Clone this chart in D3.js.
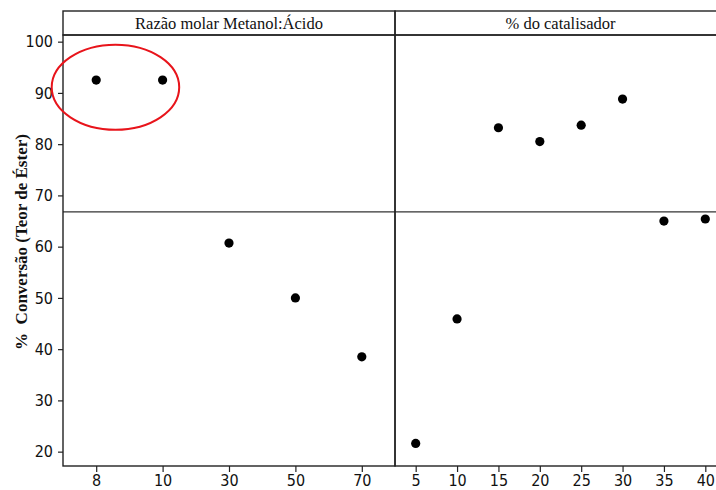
<!DOCTYPE html>
<html>
<head>
<meta charset="utf-8">
<script src="https://cdn.jsdelivr.net/npm/d3@7"></script>
<style>
  html, body { margin: 0; padding: 0; background: #fff; }
  svg { display: block; }
</style>
</head>
<body>
<svg id="chart" width="716" height="490"></svg>
<script>
// Main-effects data: mean conversion (%) for each level of the two factors
const ratioLevels = ["8", "10", "30", "50", "70"];
const ratioValues = [92.5, 92.5, 60.7, 50.0, 38.5];

const catalystLevels = ["5", "10", "15", "20", "25", "30", "35", "40"];
const catalystValues = [21.6, 45.9, 83.2, 80.5, 83.7, 88.8, 65.0, 65.4];

const panelTitles = ["Razão molar Metanol:Ácido", "% do catalisador"];
const yTicks = [20, 30, 40, 50, 60, 70, 80, 90, 100];
const yTitle = "%  Conversão (Teor de Éster)";

// Highlight ellipse around the two best ratio levels (data units)
const highlight = { level: "8", shift: 0.29, value: 91.1, halfWidth: 0.96, halfHeight: 8.3 };

const svg = d3.select("#chart");

const plotTop = 35, plotBottom = 466, stripTop = 11;
const panelX = [[63, 395], [395, 726]];

const y = d3.scaleLinear().domain([17.2, 101.3]).range([plotBottom, plotTop]);

const panels = [
  { title: panelTitles[0], levels: ratioLevels, values: ratioValues, range: panelX[0] },
  { title: panelTitles[1], levels: catalystLevels, values: catalystValues, range: panelX[1] }
];

const allValues = ratioValues.concat(catalystValues);
const grandMean = d3.mean(allValues);

const axisColor = "#222";
const tickFont = "'DejaVu Sans Condensed', 'DejaVu Sans', sans-serif";
const serifFont = "'Liberation Serif', 'Times New Roman', serif";

function styleTickText(sel) {
  sel.attr("font-family", tickFont)
    .attr("font-size", 16)
    .style("font-stretch", "condensed")
    .attr("fill", "#111");
}

panels.forEach((p) => {
  p.x = d3.scalePoint().domain(p.levels).range(p.range).padding(0.5);
});

// Grand-mean reference line across both panels
svg.append("line")
  .attr("x1", panelX[0][0]).attr("x2", panelX[1][1])
  .attr("y1", y(grandMean)).attr("y2", y(grandMean))
  .attr("stroke", "#333").attr("stroke-width", 1.2);

panels.forEach((p) => {
  const [x0, x1] = p.range;
  const g = svg.append("g");

  // strip header
  g.append("rect")
    .attr("x", x0).attr("y", stripTop)
    .attr("width", x1 - x0).attr("height", plotTop - stripTop)
    .attr("fill", "none").attr("stroke", axisColor).attr("stroke-width", 1.4);
  g.append("text")
    .attr("x", (x0 + x1) / 2).attr("y", 29.3)
    .attr("text-anchor", "middle")
    .attr("font-family", serifFont).attr("font-size", 16.5)
    .attr("fill", "#111")
    .text(p.title);

  // panel frame
  g.append("rect")
    .attr("x", x0).attr("y", plotTop)
    .attr("width", x1 - x0).attr("height", plotBottom - plotTop)
    .attr("fill", "none").attr("stroke", axisColor).attr("stroke-width", 1.4);

  // x axis
  const xa = g.append("g")
    .attr("transform", `translate(0,${plotBottom})`)
    .call(d3.axisBottom(p.x).tickSize(6).tickPadding(3));
  xa.select(".domain").remove();
  xa.selectAll("line").attr("stroke", axisColor).attr("stroke-width", 1.2);
  xa.selectAll("text").call(styleTickText);

  // points
  g.selectAll("circle")
    .data(p.levels.map((l, i) => ({ level: l, value: p.values[i] })))
    .join("circle")
    .attr("cx", (d) => p.x(d.level))
    .attr("cy", (d) => y(d.value))
    .attr("r", 4.6)
    .attr("fill", "#000");
});

// y axis
const ya = svg.append("g")
  .attr("transform", `translate(${panelX[0][0]},0)`)
  .call(d3.axisLeft(y).tickValues(yTicks).tickSize(5).tickPadding(5));
ya.select(".domain").remove();
ya.selectAll("line").attr("stroke", axisColor).attr("stroke-width", 1.2);
ya.selectAll("text").call(styleTickText);

// y axis title
svg.append("text")
  .attr("transform", "translate(27,242) rotate(-90)")
  .attr("text-anchor", "middle")
  .attr("font-family", serifFont).attr("font-weight", "bold").attr("font-size", 17)
  .attr("fill", "#111")
  .attr("xml:space", "preserve")
  .style("white-space", "pre")
  .text(yTitle);

// highlight ellipse
const xr = panels[0].x;
const step = xr.step();
svg.append("ellipse")
  .attr("cx", xr(highlight.level) + highlight.shift * step)
  .attr("cy", y(highlight.value))
  .attr("rx", highlight.halfWidth * step)
  .attr("ry", y(0) - y(highlight.halfHeight))
  .attr("fill", "none")
  .attr("stroke", "#e8141b")
  .attr("stroke-width", 2);
</script>
</body>
</html>
